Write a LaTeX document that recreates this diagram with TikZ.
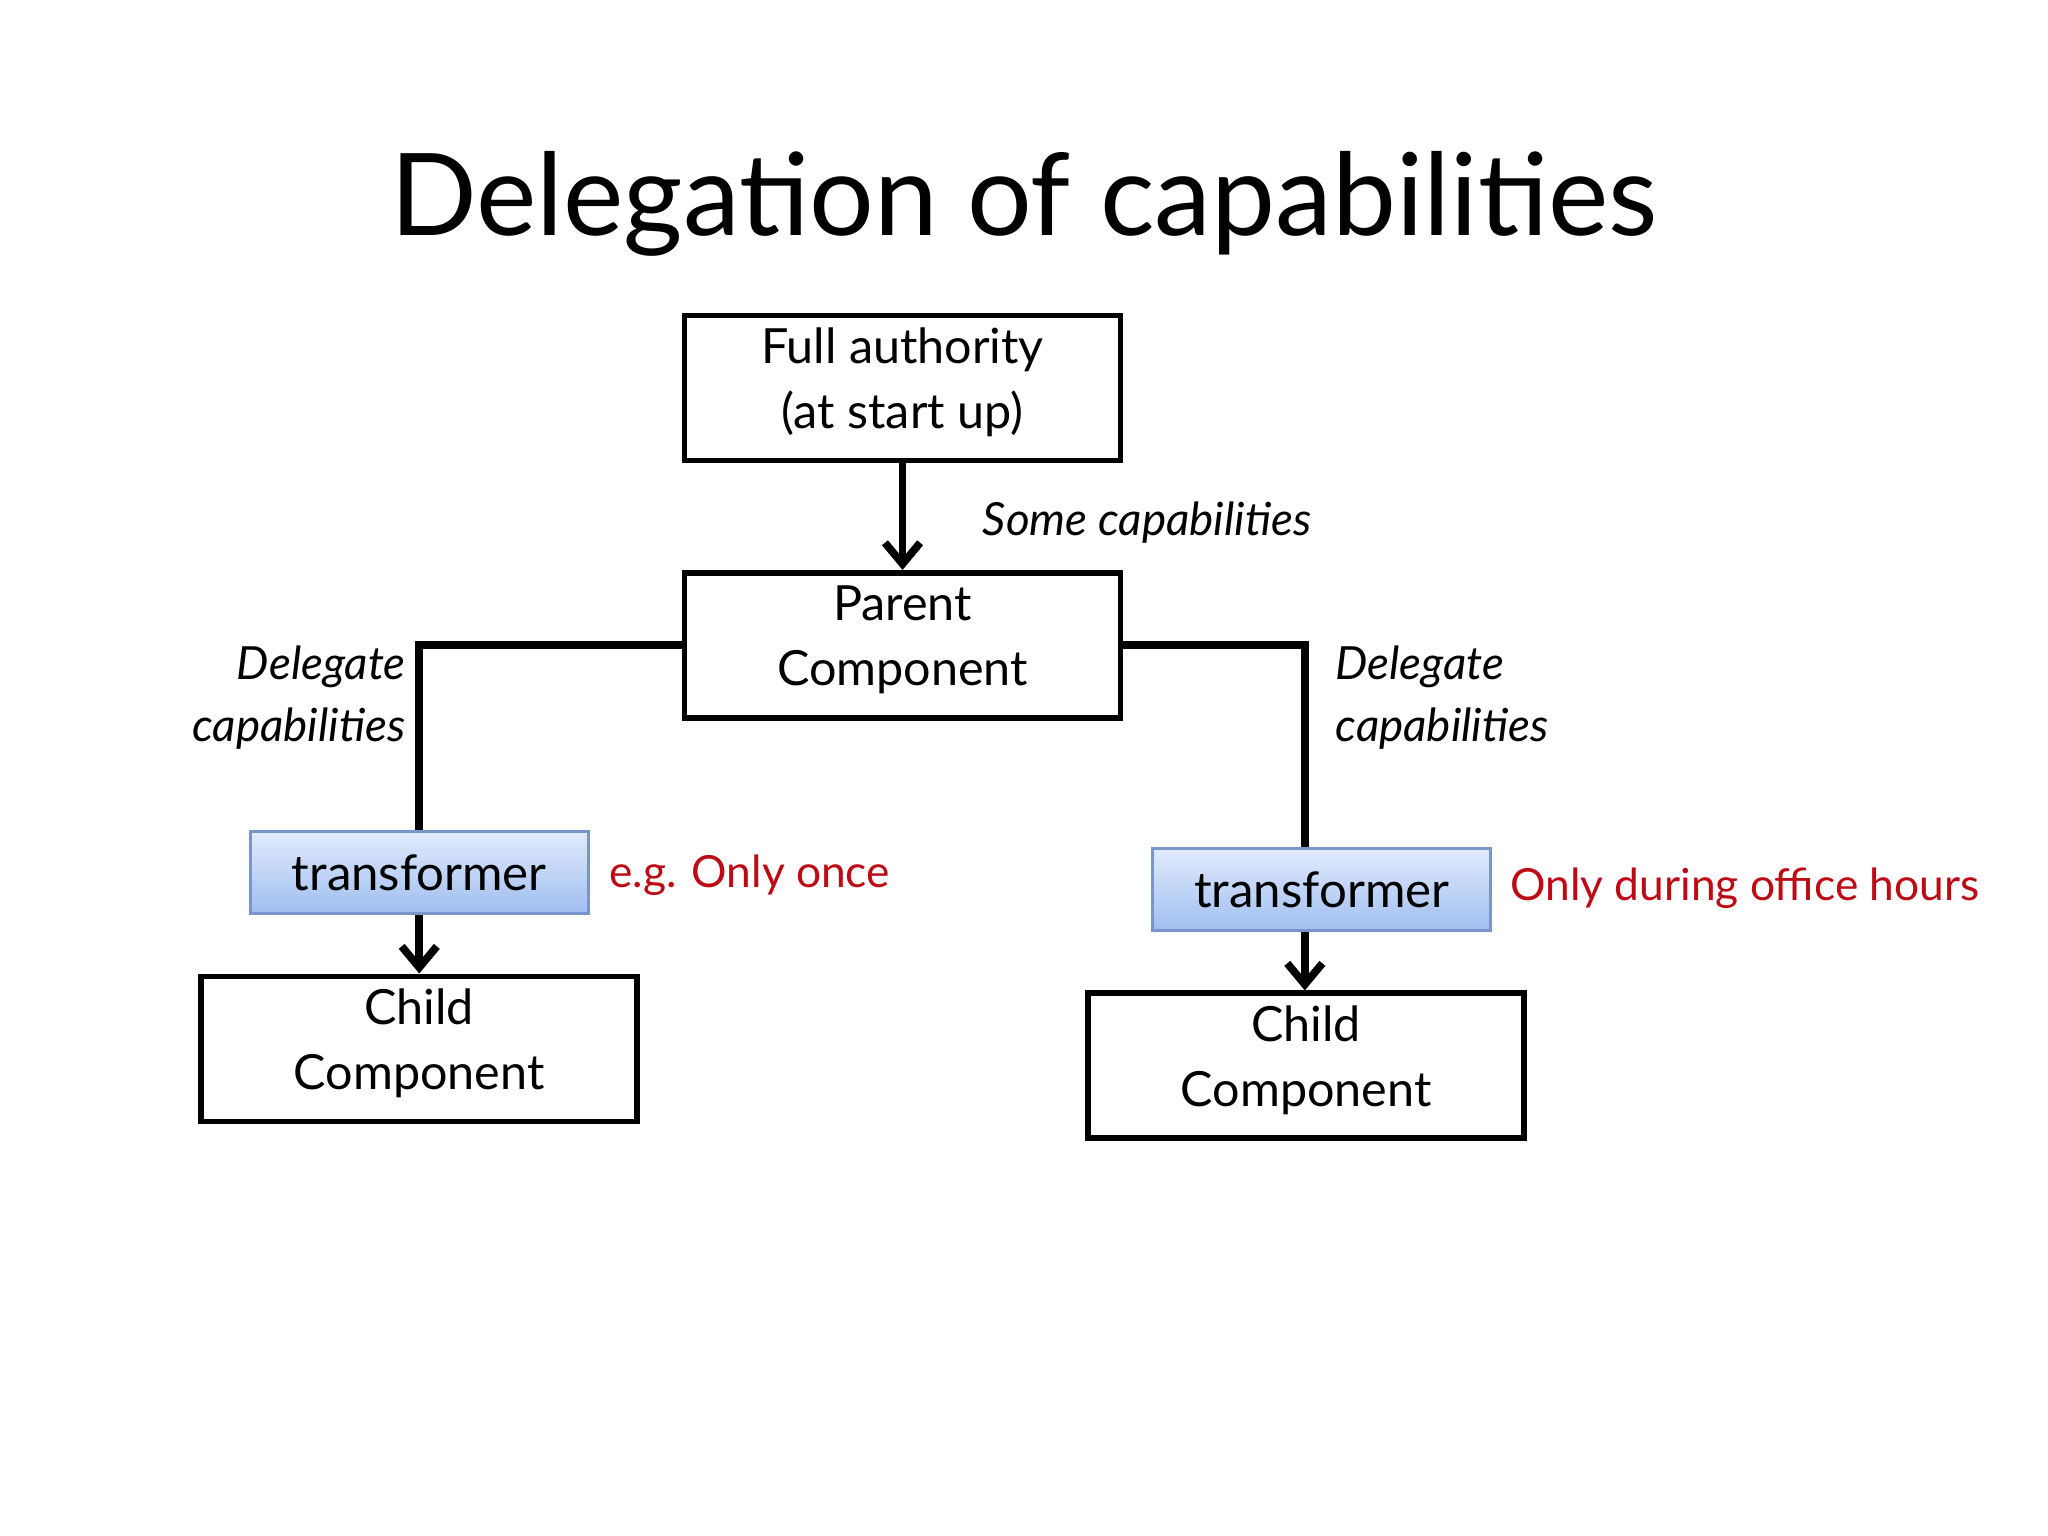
\documentclass[tikz,border=0pt]{standalone}
\usepackage{fontspec}
\setmainfont{Lato}
\usetikzlibrary{arrows.meta}
\definecolor{redtxt}{RGB}{190,10,20}
\definecolor{tborder}{RGB}{120,150,200}
\definecolor{ttop}{RGB}{225,235,252}
\definecolor{tbot}{RGB}{160,190,240}
\begin{document}
\begin{tikzpicture}[x=0.01306cm,y=-0.01306cm,
  box/.style={draw,line width=1.6pt,minimum width=4.36cm,minimum height=1.45cm,align=center,font=\fontsize{13.8}{18.5}\selectfont,inner sep=0pt,text depth=0.2cm},
  trans/.style={draw=tborder,line width=0.8pt,top color=ttop,bottom color=tbot,minimum width=3.38cm,minimum height=0.82cm,font=\fontsize{14}{18}\selectfont,inner sep=0pt},
  conn/.style={line width=2.2pt},
  arr/.style={line width=2.2pt,-{Straight Barb[length=6pt,width=10pt,line width=2.2pt]}},
  lab/.style={font=\itshape\fontsize{13}{17.5}\selectfont,inner sep=0pt},
  red/.style={text=redtxt,font=\fontsize{12.6}{15}\selectfont,inner sep=0pt,anchor=west}]
\useasboundingbox (0,0) rectangle (1568,1176);
\node[font=\fontsize{32.5}{36}\selectfont] (title) at (784,156) {Delegation of capabilities};
\node[box] (full) at (691,297) {Full authority\\(at start up)};
\node[box] (parent) at (691,494) {Parent\\Component};
\node[trans] (tl) at (321,668) {transformer};
\node[trans] (tr) at (1012,681) {transformer};
\node[box] (cl) at (321,803) {Child\\Component};
\node[box] (cr) at (1000,816) {Child\\Component};
\coordinate (lc) at (321,494);
\coordinate (rc) at (999,494);
\draw[arr] (full) -- (parent);
\draw[conn] (parent.west) -- (lc) -- (tl.north);
\draw[conn] (parent.east) -- (rc) -- (rc|-tr.north);
\draw[arr] (tl.south) -- (cl.north);
\draw[arr] (rc|-tr.south) -- (rc|-cr.north);
\node[lab,anchor=west] (some) at (752,400) {Some capabilities};
\node[lab,anchor=east,align=right] (dl) at (311,534) {Delegate\\capabilities};
\node[lab,anchor=west,align=left] (dr) at (1022,534) {Delegate\\capabilities};
\node[red] (r1) at (466,670) {e.g. Only once};
\node[red] (r2) at (1156,680) {Only during office hours};
\end{tikzpicture}
\end{document}
